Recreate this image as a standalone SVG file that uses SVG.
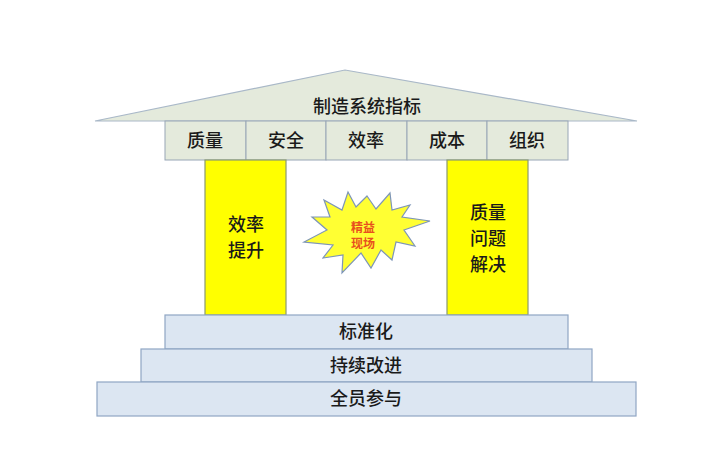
<svg xmlns="http://www.w3.org/2000/svg" width="705" height="454" viewBox="0 0 705 454">
<style>
text{font-family:"Noto Sans CJK SC","Liberation Sans",sans-serif;fill:#1a1a1a;text-anchor:middle}
.roof{fill:#e4eadc;stroke:#a9b8c8;stroke-width:1.2}
.cell{fill:#e4eadc;stroke:#98a6b6;stroke-width:1}
.pillar{fill:#ffff00;stroke:#8a9a70;stroke-width:1.2}
.step{fill:#dce6f2;stroke:#8fa6c4;stroke-width:1.2}
.t{font-size:18px;font-weight:500}
</style>
<rect width="705" height="454" fill="#fff"/>
<g id="roof"><polygon class="roof" points="95,121 345,70 637,121"/><text class="t" x="367" y="113">制造系统指标</text></g>
<g id="metrics">
<rect class="cell" x="165" y="121" width="81" height="39"/><text class="t" x="205" y="147">质量</text>
<rect class="cell" x="246" y="121" width="80" height="39"/><text class="t" x="286" y="147">安全</text>
<rect class="cell" x="326" y="121" width="81" height="39"/><text class="t" x="366" y="147">效率</text>
<rect class="cell" x="407" y="121" width="80" height="39"/><text class="t" x="447" y="147">成本</text>
<rect class="cell" x="487" y="121" width="81" height="39"/><text class="t" x="527" y="147">组织</text>
</g>
<g id="pillar-left"><rect class="pillar" x="205" y="160" width="81" height="155"/><text class="t" x="246" y="231">效率</text><text class="t" x="246" y="257">提升</text></g>
<g id="pillar-right"><rect class="pillar" x="447" y="160" width="81" height="155"/><text class="t" x="488" y="219">质量</text><text class="t" x="488" y="245">问题</text><text class="t" x="488" y="271">解决</text></g>
<g id="star">
<polygon points="367,196 376,209 390,193 392,210 410,205 402,217 430,221 404,230 415,246 396,242 392,260 381,250 371,268 361,253 342,273 343,255 323,258 333,245 304,242 327,230 312,217 330,217 324,200 342,210 348,192 356,207" fill="#ffff33" stroke="#7d95b8" stroke-width="1.2"/>
<text x="363" y="232" style="font-size:12px;fill:#e8501e;font-weight:bold">精益</text>
<text x="363" y="248" style="font-size:12px;fill:#e8501e;font-weight:bold">现场</text>
</g>
<g id="step1"><rect class="step" x="165" y="315" width="403" height="34"/><text class="t" x="366" y="338">标准化</text></g>
<g id="step2"><rect class="step" x="141" y="349" width="451" height="33"/><text class="t" x="366" y="372">持续改进</text></g>
<g id="step3"><rect class="step" x="97" y="382" width="539" height="34"/><text class="t" x="366" y="405">全员参与</text></g>
</svg>
